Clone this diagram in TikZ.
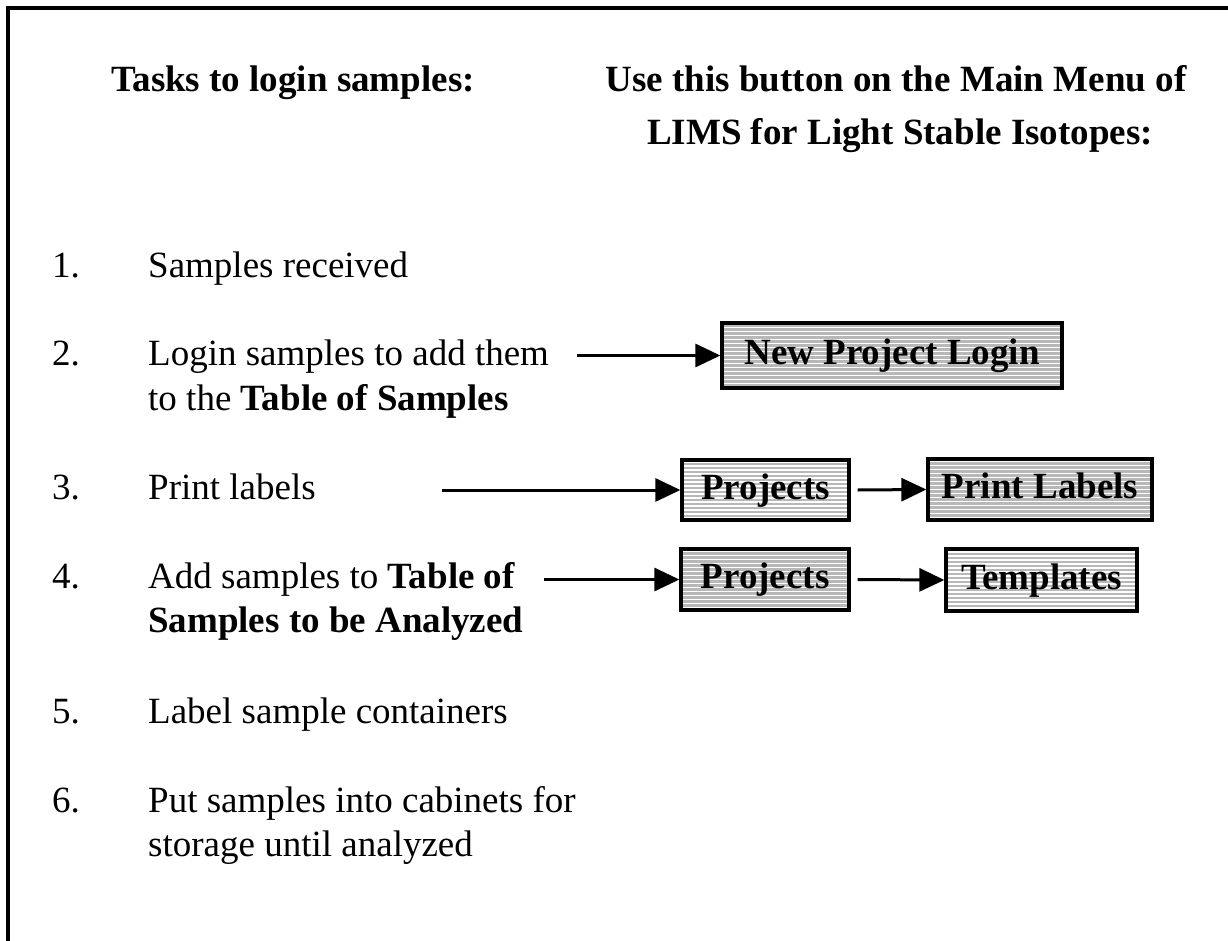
\documentclass[tikz,border=0pt]{standalone}
\usepackage{fontspec}
\setmainfont{Liberation Serif}
\usetikzlibrary{arrows.meta}
\begin{document}
\begin{tikzpicture}[x=1pt,y=-1pt,
  txt/.style={inner sep=0pt, anchor=base west, font=\fontsize{37}{44}\selectfont},
  num/.style={inner sep=0pt, anchor=base west, font=\fontsize{37}{44}\selectfont},
  head/.style={inner sep=0pt, anchor=base, font=\fontsize{37}{44}\selectfont\bfseries},
  btn/.style={draw=black, line width=3.3pt, inner sep=0pt, text height=26pt, text depth=8pt,
    font=\fontsize{37}{44}\selectfont\bfseries, fill=black!28,
    path picture={\foreach \k in {-44,-40,...,44}
      \draw[white, line width=1.5pt] ([yshift=\k pt]path picture bounding box.west) -- ([yshift=\k pt]path picture bounding box.east);}},
  conn/.style={line width=3pt, -{Triangle[length=25pt,width=23pt]}},
  frame/.style={line width=4pt, draw=black}]
\path[use as bounding box] (0,0) rectangle (1228,941);
\begin{scope}
\clip (0,0) rectangle (1228,941);
\draw[frame] (8,960) -- (8,8) -- (1250,8);
\end{scope}

% headings
\node[head] (h1) at (293,92) {Tasks to login samples:};
\node[head] (h2) at (896,92) {Use this button on the Main Menu of};
\node[head] (h3) at (900,145) {LIMS for Light Stable Isotopes:};

% numbers
\node[num] (n1) at (52,277) {1.};
\node[num] (n2) at (52,365) {2.};
\node[num] (n3) at (52,499) {3.};
\node[num] (n4) at (52,588) {4.};
\node[num] (n5) at (52,723) {5.};
\node[num] (n6) at (52,812) {6.};

% item texts
\node[txt] (t1) at (148,277) {Samples received};
\node[txt] (t2a) at (148,365) {Login samples to add them};
\node[txt] (t2b) at (148,410) {to the \textbf{Table of Samples}};
\node[txt] (t3) at (148,499) {Print labels};
\node[txt] (t4a) at (148,588) {Add samples to \textbf{Table of}};
\node[txt] (t4b) at (148,632) {\textbf{Samples to be Analyzed}};
\node[txt] (t5) at (148,723) {Label sample containers};
\node[txt] (t6a) at (148,812) {Put samples into cabinets for};
\node[txt] (t6b) at (148,856) {storage until analyzed};

% buttons
\node[btn, minimum width=340pt, minimum height=65pt] (npl) at (892,355.5) {New Project Login};
\node[btn, minimum width=167pt, minimum height=60pt] (p3) at (765.5,490) {Projects};
\node[btn, minimum width=224pt, minimum height=61pt] (pl) at (1040,489.5) {Print Labels};
\node[btn, minimum width=168pt, minimum height=61pt] (p4) at (765,579.5) {Projects};
\node[btn, minimum width=191pt, minimum height=62pt] (tm) at (1041.5,580) {Templates};

% connector start points
\coordinate (s2) at (577,355.5);
\coordinate (s3) at (442,490);
\coordinate (s4) at (544,579.5);
\coordinate (s3b) at ([xshift=7pt]p3.east);
\coordinate (s4b) at ([xshift=7pt]p4.east);

\draw[conn] (s2) -- (npl.west);
\draw[conn] (s3) -- (p3.west);
\draw[conn] (s3b) -- (pl.west);
\draw[conn] (s4) -- (p4.west);
\draw[conn] (s4b) -- (tm.west);
\end{tikzpicture}
\end{document}
